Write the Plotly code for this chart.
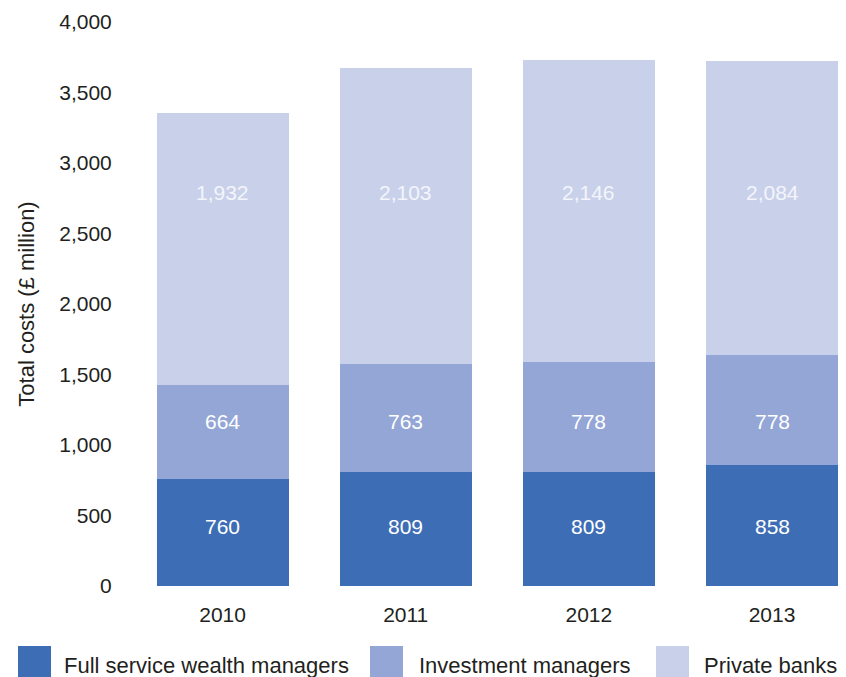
import plotly.graph_objects as go

# Wealth management total costs by firm type, £ million
years = ["2010", "2011", "2012", "2013"]
series_names = ["Full service wealth managers", "Investment managers", "Private banks"]
full_service = [760, 809, 809, 858]
investment = [664, 763, 778, 778]
private_banks = [1932, 2103, 2146, 2084]
y_ticks = [0, 500, 1000, 1500, 2000, 2500, 3000, 3500, 4000]

colors = ["#3D6DB5", "#93A6D6", "#C9D1EA"]
label_colors = ["#FFFFFF", "#FFFFFF", "#F3F5FB"]
label_levels = [420, 1170, 2790]  # fixed heights at which segment labels sit

W, H = 846, 677
L, R, T, B = 131, 0, 22, 91
plot_w, plot_h = W - L - R, H - T - B

FONT = "Liberation Sans, Arial, sans-serif"
TEXT = "#231F20"
FS = 21

fig = go.Figure()
for name, vals, col in zip(series_names, [full_service, investment, private_banks], colors):
    fig.add_trace(go.Bar(
        x=years, y=vals, name=name, marker=dict(color=col, line=dict(width=0)),
        width=0.72, showlegend=False, hoverinfo="x+y+name",
    ))

# Segment value labels (category index used as x position)
for vals, lvl, lc in zip([full_service, investment, private_banks], label_levels, label_colors):
    for i, v in enumerate(vals):
        fig.add_annotation(x=i, y=lvl, xref="x", yref="y", text=f"{v:,}", showarrow=False,
                           font=dict(family=FONT, size=FS, color=lc),
                           xanchor="center", yanchor="middle")

# Legend drawn as swatches and labels beneath the axis
legend_px = [(18, 62), (370, 417), (656, 702)]
def px_x(p):
    return (p - L) / plot_w
def px_y(p):
    return (H - B - p) / plot_h
for (sx, tx), name, col in zip(legend_px, series_names, colors):
    fig.add_shape(type="rect", xref="paper", yref="paper",
                  x0=px_x(sx), x1=px_x(sx + 33), y0=px_y(646), y1=px_y(682),
                  fillcolor=col, line=dict(width=0), layer="above")
    fig.add_annotation(xref="paper", yref="paper", x=px_x(tx), y=px_y(665),
                       text=name, showarrow=False, xanchor="left", yanchor="middle",
                       font=dict(family=FONT, size=22, color=TEXT))

fig.update_layout(
    barmode="stack",
    width=W, height=H,
    margin=dict(l=L, r=R, t=T, b=B, pad=0),
    paper_bgcolor="white", plot_bgcolor="white",
    font=dict(family=FONT, size=FS, color=TEXT),
    xaxis=dict(type="category", range=[-0.5, 3.404], showgrid=False, zeroline=False,
               showline=False, ticks="outside", ticklen=10, tickcolor="rgba(0,0,0,0)",
               tickfont=dict(size=FS, color=TEXT)),
    yaxis=dict(range=[0, 4000], tickvals=y_ticks, ticktext=[f"{v:,}" for v in y_ticks],
               showgrid=False, zeroline=False, showline=False,
               ticks="outside", ticklen=14, tickcolor="rgba(0,0,0,0)",
               tickfont=dict(size=FS, color=TEXT),
               title=dict(text="Total costs (£ million)", standoff=18,
                          font=dict(size=22, color=TEXT))),
)

fig.write_html("out.html")
